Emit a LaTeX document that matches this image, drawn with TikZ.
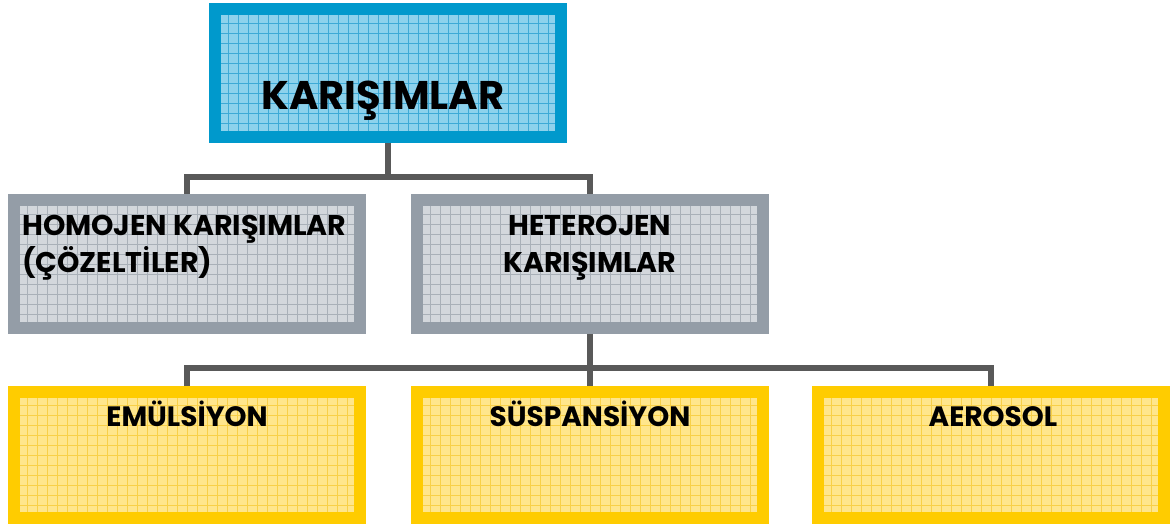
\documentclass[tikz,border=0pt]{standalone}
\usepackage{fontspec}
\setmainfont{Poppins}
\usetikzlibrary{positioning}
\definecolor{mavikenar}{HTML}{0099CC}
\definecolor{maviic}{HTML}{8DD2EC}
\definecolor{maviizgara}{HTML}{3EAAD6}
\definecolor{grikenar}{HTML}{949DA7}
\definecolor{griic}{HTML}{D3D7DC}
\definecolor{griizgara}{HTML}{A9B0B8}
\definecolor{sarikenar}{HTML}{FFCC00}
\definecolor{sariic}{HTML}{FFE68C}
\definecolor{sariizgara}{HTML}{F8D048}
\definecolor{hatrengi}{HTML}{595959}

\begin{document}
\begin{tikzpicture}[x=1pt,y=-1pt,
    kutu/.style={line width=12pt, minimum width=346pt, minimum height=128pt, inner sep=0pt},
    izgara/.style={path picture={\draw[#1, line width=0.5pt, step=10pt]
        (path picture bounding box.south west) grid (path picture bounding box.north east);}},
    anakutu/.style={kutu, draw=mavikenar, fill=maviic, izgara=maviizgara},
    grikutu/.style={kutu, draw=grikenar, fill=griic, izgara=griizgara},
    sarikutu/.style={kutu, minimum height=126pt, draw=sarikenar, fill=sariic, izgara=sariizgara},
    baglanti/.style={draw=hatrengi, line width=6pt},
    yazi/.style={anchor=base, inner sep=0pt, font=\bfseries\fontsize{26}{28}\selectfont}]
    \useasboundingbox (0,0) rectangle (1170,526);

    \node[anakutu] (karisim) at (388,73) {};
    \node[grikutu] (homojen) at (187,264) {};
    \node[grikutu] (heterojen) at (590,264) {};
    \node[sarikutu] (emulsiyon) at (187,455) {};
    \node[sarikutu] (suspansiyon) at (590,455) {};
    \node[sarikutu] (aerosol) at (991,455) {};

    \node[yazi, font=\bfseries\fontsize{40}{42}\selectfont] (karisimyazi) at (383,110) {KARIŞIMLAR};
    \node[yazi, anchor=base west, font=\bfseries\fontsize{28.5}{30}\selectfont] (homojen1) at (22,236) {HOMOJEN KARIŞIMLAR};
    \node[yazi, anchor=base west, font=\bfseries\fontsize{28.5}{30}\selectfont] (homojen2) at (22,273) {(ÇÖZELTİLER)};
    \node[yazi, font=\bfseries\fontsize{28.5}{30}\selectfont] (heterojen1) at (590,236) {HETEROJEN};
    \node[yazi, font=\bfseries\fontsize{28.5}{30}\selectfont] (heterojen2) at (590,273) {KARIŞIMLAR};
    \node[yazi, font=\bfseries\fontsize{28}{30}\selectfont] (emulsiyonyazi) at (187,427) {EMÜLSİYON};
    \node[yazi, font=\bfseries\fontsize{28}{30}\selectfont] (suspansiyonyazi) at (590,427) {SÜSPANSİYON};
    \node[yazi, font=\bfseries\fontsize{28}{30}\selectfont] (aerosolyazi) at (993,427) {AEROSOL};

    \coordinate (catal1) at (388,177);
    \coordinate (catal2) at (590,368);
    \draw[baglanti] (karisim.south) -- (catal1);
    \draw[baglanti] (homojen.north) |- (catal1);
    \draw[baglanti] (heterojen.north) |- (catal1);
    \draw[baglanti] (heterojen.south) -- (catal2);
    \draw[baglanti] (emulsiyon.north) |- (catal2);
    \draw[baglanti] (suspansiyon.north) -- (catal2);
    \draw[baglanti] (aerosol.north) |- (catal2);
\end{tikzpicture}
\end{document}
